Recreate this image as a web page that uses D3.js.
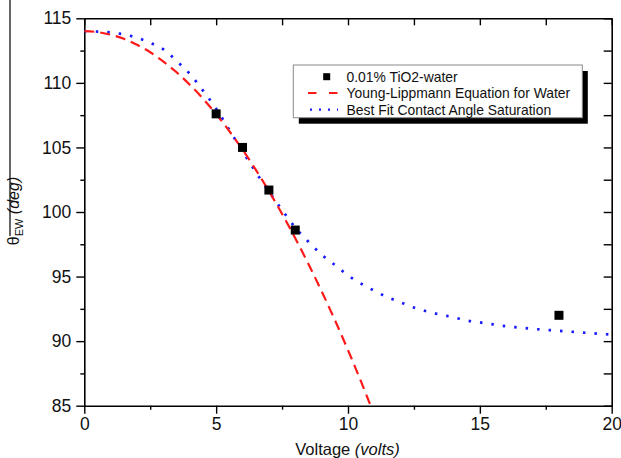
<!DOCTYPE html>
<html><head><meta charset="utf-8">
<script src="https://cdn.jsdelivr.net/npm/d3@7"></script>
<style>body{margin:0;background:#fff}svg{display:block}text{font-family:"Liberation Sans",Arial,sans-serif}</style>
</head><body><svg id="c" width="621" height="458"></svg>
<script>
// Measured points
const expV = [5, 6, 7, 8, 18];
const expTheta = [107.6, 105.0, 101.7, 98.6, 92.0];
// Young-Lippmann curve
const ylV = [0, 0.5, 1, 1.5, 2, 2.5, 3, 3.5, 4, 4.5, 5, 5.5, 6, 6.5, 7, 7.5, 8, 8.5, 9, 9.5, 10, 10.25, 10.5, 10.75, 10.86];
const ylTheta = [114.0, 113.93, 113.73, 113.41, 112.95, 112.37, 111.65, 110.82, 109.86, 108.78, 107.58, 106.26, 104.83, 103.28, 101.62, 99.85, 97.97, 95.97, 93.86, 91.64, 89.30, 88.09, 86.84, 85.56, 85.0];
// Best fit contact angle saturation curve
const fitV = [0, 0.5, 1, 1.5, 2, 2.5, 3, 3.5, 4, 4.5, 5, 5.5, 6, 6.5, 7, 7.5, 8, 8.5, 9, 9.5, 10, 10.5, 11, 11.5, 12, 12.5, 13, 13.5, 14, 14.5, 15, 15.5, 16, 16.5, 17, 18, 19, 20];
const fitTheta = [114.0, 113.97, 113.9, 113.75, 113.5, 113.1, 112.6, 111.7, 110.7, 109.4, 108.0, 106.35, 104.7, 103.1, 101.6, 100.15, 98.8, 97.7, 96.7, 95.9, 95.1, 94.45, 93.9, 93.4, 93.0, 92.6, 92.3, 92.05, 91.85, 91.6, 91.45, 91.3, 91.15, 91.05, 90.95, 90.8, 90.65, 90.5];
const xTicks = [0, 5, 10, 15, 20];
const yTicks = [85, 90, 95, 100, 105, 110, 115];
const legendLabels = ["0.01% TiO2-water", "Young-Lippmann Equation for Water", "Best Fit Contact Angle Saturation"];

const L = 84.3, R = 611.7, T = 18.3, B = 405.7;
const svg = d3.select("#c");
const x = d3.scaleLinear().domain([0, 20]).range([L, R]);
const y = d3.scaleLinear().domain([85, 115]).range([B, T]);

const minorX = d3.range(0, 20.01, 2.5).filter(v => !xTicks.includes(v));
const minorY = d3.range(85, 115.01, 2.5).filter(v => !yTicks.includes(v));
const fs = "17.5px";

function styleAxis(g){ g.select(".domain").attr("stroke","#000").attr("stroke-width",1.6); g.selectAll(".tick line").attr("stroke","#000").attr("stroke-width",1.4); }

// bottom
svg.append("g").attr("transform",`translate(0,${B})`).call(d3.axisBottom(x).tickValues(xTicks).tickSize(8).tickSizeOuter(0).tickPadding(4).tickFormat(d3.format("d")))
  .call(styleAxis).call(g=>g.selectAll("text").attr("font-size",fs).attr("fill","#111"));
svg.append("g").attr("transform",`translate(0,${B})`).call(d3.axisBottom(x).tickValues(minorX).tickSize(4).tickFormat(""))
  .call(styleAxis).call(g=>g.select(".domain").remove());
// top
svg.append("g").attr("transform",`translate(0,${T})`).call(d3.axisBottom(x).tickValues(xTicks.concat(minorX)).tickSize(7).tickSizeOuter(0).tickFormat(""))
  .call(styleAxis);
// left
svg.append("g").attr("transform",`translate(${L},0)`).call(d3.axisLeft(y).tickValues(yTicks).tickSize(8).tickSizeOuter(0).tickPadding(5).tickFormat(d3.format("d")))
  .call(styleAxis).call(g=>g.selectAll("text").attr("font-size",fs).attr("fill","#111"));
svg.append("g").attr("transform",`translate(${L},0)`).call(d3.axisLeft(y).tickValues(minorY).tickSize(4).tickFormat(""))
  .call(styleAxis).call(g=>g.select(".domain").remove());
// right
svg.append("g").attr("transform",`translate(${R},0)`).call(d3.axisLeft(y).tickValues(yTicks.concat(minorY)).tickSize(8).tickSizeOuter(0).tickFormat(""))
  .call(styleAxis);

// curves
svg.append("clipPath").attr("id","pc").append("rect").attr("x",L).attr("y",T-1).attr("width",R-L).attr("height",B-T+1);
const line = d3.line().x(d=>x(d[0])).y(d=>y(d[1])).curve(d3.curveMonotoneX);
svg.append("path").datum(fitV.map((v,i)=>[v,fitTheta[i]])).attr("d",line)
  .attr("fill","none").attr("stroke","#1a1aff").attr("stroke-width",2.7).attr("stroke-dasharray","2.5,9").attr("clip-path","url(#pc)");
svg.append("path").datum(ylV.map((v,i)=>[v,ylTheta[i]])).attr("d",line)
  .attr("fill","none").attr("stroke","#ff1a1a").attr("stroke-width",2.2).attr("stroke-dasharray","10,6").attr("clip-path","url(#pc)");

// points
const ms = 9;
svg.selectAll("rect.pt").data(expV.map((v,i)=>[v,expTheta[i]])).join("rect").attr("class","pt")
  .attr("x",d=>x(d[0])-ms/2).attr("y",d=>y(d[1])-ms/2).attr("width",ms).attr("height",ms).attr("fill","#000");

// legend
const lx = 293.3, ly = 65, lw = 289, lh = 52.7;
svg.append("rect").attr("x",lx+5.5).attr("y",ly+6).attr("width",lw).attr("height",lh).attr("fill","#000");
svg.append("rect").attr("x",lx).attr("y",ly).attr("width",lw).attr("height",lh).attr("fill","#fff").attr("stroke","#8a8a8a").attr("stroke-width",1);
const rows = [76.7, 93, 109.7];
svg.append("rect").attr("x",326.7-3.5).attr("y",rows[0]-3.5).attr("width",7).attr("height",7).attr("fill","#000");
svg.append("line").attr("x1",308).attr("x2",338.5).attr("y1",rows[1]).attr("y2",rows[1]).attr("stroke","#ff1a1a").attr("stroke-width",2).attr("stroke-dasharray","8.5,12.5");
svg.append("line").attr("x1",310).attr("x2",338).attr("y1",rows[2]).attr("y2",rows[2]).attr("stroke","#1a1aff").attr("stroke-width",2.2).attr("stroke-dasharray","2,7");
legendLabels.forEach((t,i)=>{
  svg.append("text").attr("x",346.5).attr("y",rows[i]).attr("dy","0.36em").attr("font-size","13.9px").attr("fill","#111").text(t);
});

// x label
const xl = svg.append("text").attr("x",347.5).attr("y",455).attr("text-anchor","middle").attr("font-size","16.5px").attr("fill","#111");
xl.append("tspan").text("Voltage ");
xl.append("tspan").attr("font-style","italic").text("(volts)");

// y label
const yl = svg.append("text").attr("transform","translate(19,211) rotate(-90)").attr("text-anchor","middle").attr("font-size","16px").attr("fill","#111");
yl.append("tspan").text("θ");
yl.append("tspan").attr("font-size","11px").attr("dy","4").text("EW");
yl.append("tspan").attr("dy","-4").text(" ");
yl.append("tspan").attr("font-style","italic").text("(deg)");
svg.append("line").attr("x1",10).attr("x2",10).attr("y1",0).attr("y2",236).attr("stroke","#000").attr("stroke-width",1.2);
</script></body></html>
